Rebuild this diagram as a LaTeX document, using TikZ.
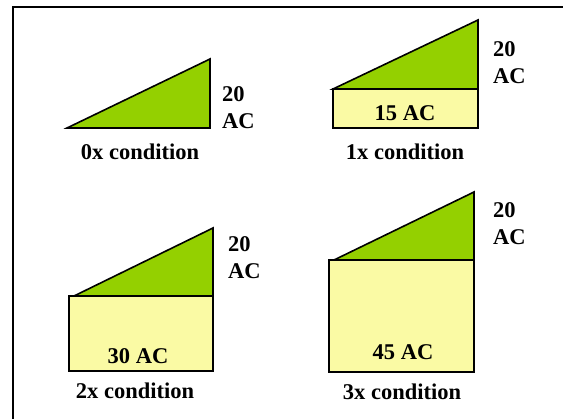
\documentclass[tikz,border=0pt]{standalone}
\usepackage{fontspec}
\setmainfont{Liberation Serif}
\usetikzlibrary{positioning}
\definecolor{WedgeGreen}{RGB}{148,208,0}
\definecolor{BaseYellow}{RGB}{250,250,164}

\begin{document}
\begin{tikzpicture}[x=1pt, y=-1pt,
    outline/.style={draw=black, line width=1.6pt, line join=miter},
    lbl/.style={font=\fontsize{22.5}{24}\selectfont\bfseries, inner sep=0pt}]
    \useasboundingbox (0,0) rectangle (563,419);
    \draw[line width=1.4pt] (13,419) -- (13,7) -- (563,7);
    % 0x condition
    \draw[outline, fill=WedgeGreen] (67,128) -- (210,128) -- (210,59) -- cycle;
    \node[lbl, anchor=west] (top0) at (222,94) {20};
    \node[lbl, anchor=west] (ac0) at (222,121) {AC};
    \node[lbl] (cond0) at (140,152) {0x condition};
    % 1x condition
    \draw[outline, fill=BaseYellow] (333,89) rectangle (478,128);
    \draw[outline, fill=WedgeGreen] (333,89) -- (478,89) -- (478,20) -- cycle;
    \node[lbl, anchor=west] (top1) at (493,49) {20};
    \node[lbl, anchor=west] (ac1) at (493,76) {AC};
    \node[lbl] (base1) at (405,113) {15 AC};
    \node[lbl] (cond1) at (405,152) {1x condition};
    % 2x condition
    \draw[outline, fill=BaseYellow] (69,296) rectangle (213,371);
    \draw[outline, fill=WedgeGreen] (74,296) -- (213,296) -- (213,228) -- cycle;
    \node[lbl, anchor=west] (top2) at (228,244) {20};
    \node[lbl, anchor=west] (ac2) at (228,271) {AC};
    \node[lbl] (base2) at (138,356) {30 AC};
    \node[lbl] (cond2) at (135,391) {2x condition};
    % 3x condition
    \draw[outline, fill=BaseYellow] (329,260) rectangle (474,372);
    \draw[outline, fill=WedgeGreen] (334,260) -- (474,260) -- (474,192) -- cycle;
    \node[lbl, anchor=west] (top3) at (493,210) {20};
    \node[lbl, anchor=west] (ac3) at (493,237) {AC};
    \node[lbl] (base3) at (403,352) {45 AC};
    \node[lbl] (cond3) at (402,392) {3x condition};
\end{tikzpicture}
\end{document}
